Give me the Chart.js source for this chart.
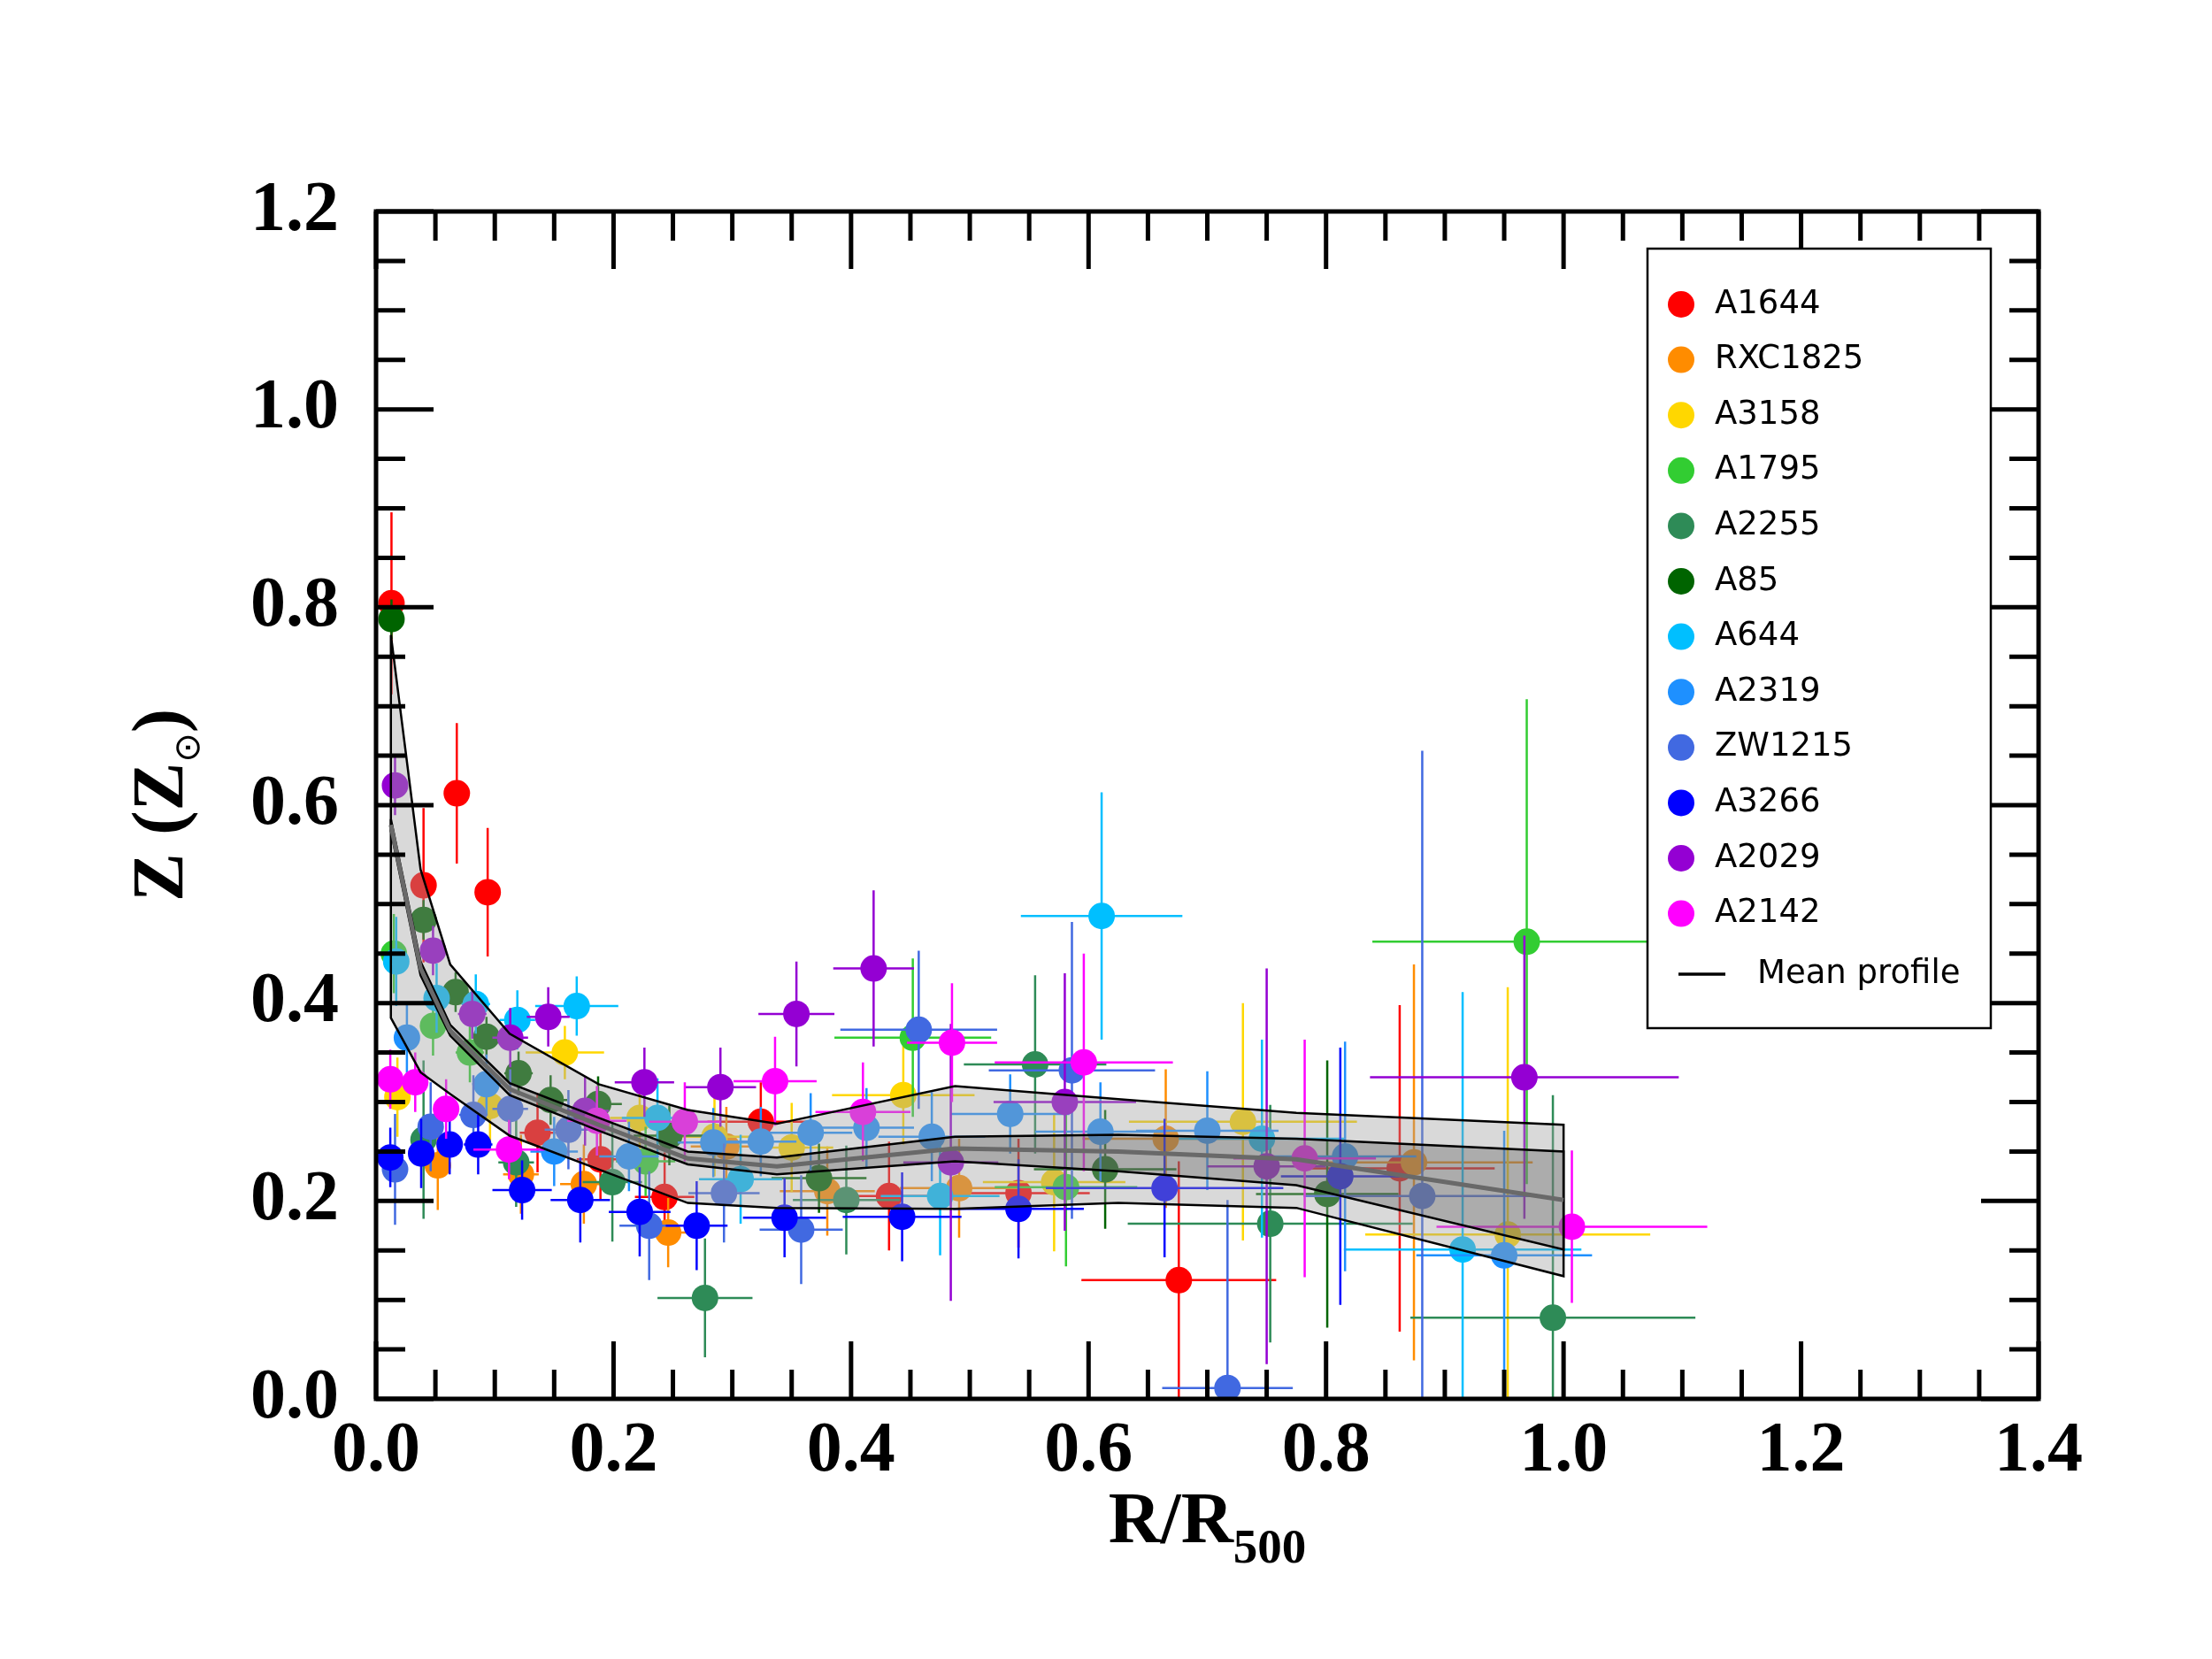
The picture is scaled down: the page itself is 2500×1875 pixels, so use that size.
<!DOCTYPE html>
<html>
<head>
<meta charset="utf-8">
<script src="https://cdn.jsdelivr.net/npm/chart.js@4.4.1/dist/chart.umd.min.js"></script>
<style>
  html, body { margin: 0; padding: 0; background: #fff; }
  canvas { display: block; }
</style>
</head>
<body>
<canvas id="zChart" width="2500" height="1875"></canvas>
<script>
// each row: [R/R500, Z, xerr, yerr]
const A1644 = [
    [0.013, 0.804, 0.006, 0.092], [0.040, 0.519, 0.008, 0.078], [0.068, 0.612, 0.009, 0.071],
    [0.094, 0.512, 0.009, 0.065], [0.136, 0.269, 0.015, 0.040], [0.189, 0.242, 0.020, 0.040],
    [0.243, 0.204, 0.025, 0.045], [0.324, 0.280, 0.045, 0.040], [0.432, 0.205, 0.050, 0.055],
    [0.541, 0.208, 0.060, 0.055], [0.676, 0.120, 0.082, 0.120], [0.862, 0.233, 0.080, 0.165]
];
const RXC1825 = [
    [0.052, 0.236, 0.010, 0.045], [0.122, 0.227, 0.015, 0.040], [0.175, 0.217, 0.020, 0.040],
    [0.246, 0.168, 0.025, 0.035], [0.295, 0.255, 0.030, 0.040], [0.380, 0.210, 0.040, 0.045],
    [0.491, 0.213, 0.050, 0.050], [0.665, 0.263, 0.070, 0.070], [0.874, 0.239, 0.100, 0.200]
];
const A3158 = [
    [0.018, 0.305, 0.008, 0.040], [0.096, 0.296, 0.012, 0.035], [0.159, 0.350, 0.033, 0.027],
    [0.222, 0.284, 0.025, 0.035], [0.285, 0.265, 0.030, 0.040], [0.350, 0.254, 0.035, 0.045],
    [0.444, 0.307, 0.060, 0.050], [0.571, 0.219, 0.060, 0.070], [0.730, 0.280, 0.096, 0.120],
    [0.953, 0.166, 0.120, 0.250]
];
const A1795 = [
    [0.015, 0.450, 0.006, 0.040], [0.048, 0.377, 0.010, 0.030], [0.079, 0.350, 0.012, 0.030],
    [0.227, 0.240, 0.025, 0.035], [0.452, 0.365, 0.066, 0.080], [0.581, 0.214, 0.060, 0.080],
    [0.969, 0.462, 0.130, 0.245]
];
const A2255 = [
    [0.040, 0.262, 0.010, 0.080], [0.118, 0.239, 0.015, 0.045], [0.199, 0.219, 0.025, 0.060],
    [0.277, 0.102, 0.040, 0.060], [0.396, 0.201, 0.045, 0.055], [0.555, 0.338, 0.060, 0.090],
    [0.753, 0.177, 0.120, 0.120], [0.991, 0.082, 0.120, 0.225]
];
const A85 = [
    [0.013, 0.788, 0.006, 0.020], [0.040, 0.484, 0.008, 0.020], [0.067, 0.411, 0.009, 0.020],
    [0.093, 0.366, 0.010, 0.020], [0.120, 0.329, 0.012, 0.022], [0.147, 0.302, 0.014, 0.025],
    [0.187, 0.298, 0.020, 0.028], [0.247, 0.266, 0.030, 0.030], [0.373, 0.223, 0.040, 0.035],
    [0.614, 0.232, 0.060, 0.060], [0.801, 0.207, 0.060, 0.135]
];
const A644 = [
    [0.017, 0.442, 0.006, 0.045], [0.051, 0.405, 0.010, 0.035], [0.084, 0.399, 0.012, 0.030],
    [0.119, 0.383, 0.015, 0.030], [0.169, 0.397, 0.035, 0.030], [0.237, 0.284, 0.030, 0.040],
    [0.307, 0.222, 0.035, 0.045], [0.475, 0.205, 0.050, 0.060], [0.611, 0.488, 0.068, 0.125],
    [0.746, 0.263, 0.070, 0.100], [0.915, 0.151, 0.100, 0.260]
];
const A2319 = [
    [0.026, 0.365, 0.010, 0.035], [0.093, 0.318, 0.012, 0.030], [0.150, 0.250, 0.020, 0.035],
    [0.213, 0.245, 0.025, 0.035], [0.284, 0.259, 0.030, 0.035], [0.324, 0.260, 0.030, 0.035],
    [0.366, 0.269, 0.035, 0.040], [0.413, 0.274, 0.040, 0.040], [0.468, 0.265, 0.045, 0.045],
    [0.534, 0.288, 0.050, 0.040], [0.610, 0.270, 0.055, 0.050], [0.700, 0.271, 0.060, 0.060],
    [0.816, 0.245, 0.060, 0.116], [0.950, 0.145, 0.074, 0.126]
];
const ZW1215 = [
    [0.016, 0.232, 0.008, 0.056], [0.046, 0.275, 0.010, 0.045], [0.082, 0.287, 0.012, 0.040],
    [0.113, 0.293, 0.015, 0.040], [0.162, 0.272, 0.020, 0.040], [0.230, 0.175, 0.025, 0.055],
    [0.293, 0.208, 0.030, 0.050], [0.358, 0.171, 0.035, 0.055], [0.457, 0.373, 0.066, 0.080],
    [0.586, 0.332, 0.070, 0.150], [0.717, 0.011, 0.055, 0.190], [0.881, 0.205, 0.100, 0.450]
];
const A3266 = [
    [0.012, 0.244, 0.006, 0.030], [0.038, 0.248, 0.010, 0.035], [0.062, 0.257, 0.010, 0.030],
    [0.086, 0.257, 0.012, 0.030], [0.123, 0.211, 0.025, 0.030], [0.172, 0.201, 0.025, 0.043],
    [0.222, 0.189, 0.026, 0.045], [0.270, 0.175, 0.026, 0.045], [0.344, 0.183, 0.035, 0.040],
    [0.443, 0.184, 0.050, 0.045], [0.541, 0.192, 0.055, 0.050], [0.664, 0.213, 0.100, 0.070],
    [0.812, 0.225, 0.050, 0.130]
];
const A2029 = [
    [0.016, 0.620, 0.008, 0.030], [0.048, 0.453, 0.010, 0.025], [0.081, 0.389, 0.012, 0.025],
    [0.113, 0.365, 0.015, 0.030], [0.145, 0.386, 0.018, 0.030], [0.176, 0.291, 0.020, 0.035],
    [0.226, 0.320, 0.025, 0.035], [0.290, 0.315, 0.030, 0.040], [0.354, 0.389, 0.032, 0.053],
    [0.419, 0.435, 0.034, 0.079], [0.484, 0.239, 0.040, 0.140], [0.580, 0.300, 0.060, 0.130],
    [0.750, 0.235, 0.050, 0.200], [0.967, 0.325, 0.130, 0.143]
];
const A2142 = [
    [0.012, 0.323, 0.006, 0.030], [0.033, 0.320, 0.008, 0.030], [0.059, 0.293, 0.010, 0.030],
    [0.112, 0.252, 0.030, 0.030], [0.186, 0.281, 0.025, 0.035], [0.260, 0.280, 0.030, 0.040],
    [0.336, 0.321, 0.035, 0.045], [0.410, 0.290, 0.040, 0.050], [0.485, 0.360, 0.038, 0.060],
    [0.596, 0.340, 0.075, 0.110], [0.782, 0.243, 0.060, 0.120], [1.007, 0.174, 0.114, 0.077]
];

const clusterNames = ['A1644', 'RXC1825', 'A3158', 'A1795', 'A2255', 'A85',
                      'A644', 'A2319', 'ZW1215', 'A3266', 'A2029', 'A2142'];
const clusterRows = [A1644, RXC1825, A3158, A1795, A2255, A85,
                     A644, A2319, ZW1215, A3266, A2029, A2142];
const clusterColors = ['#ff0000', '#ff8c00', '#ffd700', '#32cd32', '#2e8b57', '#006400',
                       '#00bfff', '#1e90ff', '#4169e1', '#0000ff', '#9400d3', '#ff00ff'];

// mean profile and its two scatter bands
const bandR      = [0.0125, 0.0375, 0.0625, 0.1125, 0.1875, 0.2625, 0.3375, 0.4875, 0.625, 0.775, 1.0];
const outerUpper = [0.772, 0.535, 0.439, 0.369, 0.318, 0.292, 0.278, 0.316, 0.303, 0.289, 0.277];
const outerLower = [0.385, 0.330, 0.308, 0.266, 0.232, 0.198, 0.193, 0.192, 0.198, 0.193, 0.124];
const innerUpper = [0.586, 0.442, 0.378, 0.319, 0.284, 0.250, 0.244, 0.265, 0.267, 0.263, 0.250];
const innerLower = [0.574, 0.428, 0.367, 0.307, 0.271, 0.237, 0.227, 0.240, 0.230, 0.216, 0.151];
const meanZ      = [0.580, 0.435, 0.372, 0.313, 0.277, 0.243, 0.235, 0.253, 0.250, 0.242, 0.201];

const xTickStep = 0.2, yTickStep = 0.2, minorStep = 0.05;

function bandPolygon(upper, lower) {
    let pts = bandR.map((r, i) => ({x: r, y: upper[i]}));
    for (let i = bandR.length - 1; i >= 0; i--) pts.push({x: bandR[i], y: lower[i]});
    pts.push({x: bandR[0], y: upper[0]});
    return pts;
}

// later clusters sit on top, bands above all points
let pointSets = clusterRows.map((rows, i) => ({
    type: 'scatter',
    label: clusterNames[i],
    data: rows.map(r => ({x: r[0], y: r[1]})),
    errors: rows.map(r => [r[2], r[3]]),
    backgroundColor: clusterColors[i],
    borderWidth: 0,
    pointRadius: 15,
    order: 100 - i
}));

let bandSets = [
    {
        type: 'line', label: 'outer band',
        data: bandPolygon(outerUpper, outerLower),
        borderColor: '#000', borderWidth: 2.5,
        backgroundColor: 'rgba(160,160,160,0.4)',
        fill: 'shape', pointRadius: 0, tension: 0, order: 3
    },
    {
        type: 'line', label: 'inner band',
        data: bandPolygon(innerUpper, innerLower),
        borderColor: '#000', borderWidth: 2.5,
        backgroundColor: 'rgba(90,90,90,0.35)',
        fill: 'shape', pointRadius: 0, tension: 0, order: 2
    },
    {
        type: 'line', label: 'Mean profile',
        data: bandR.map((r, i) => ({x: r, y: meanZ[i]})),
        borderColor: '#696969', borderWidth: 5,
        fill: false, pointRadius: 0, tension: 0, order: 1
    }
];

const errorBars = {
    id: 'errorBars',
    beforeDatasetDraw(chart, args) {
        let ds = chart.data.datasets[args.index];
        if (!ds.errors) return;
        const {ctx, chartArea: a, scales: {x, y}} = chart;
        ctx.save();
        ctx.beginPath();
        ctx.rect(a.left, a.top, a.right - a.left, a.bottom - a.top);
        ctx.clip();
        ctx.strokeStyle = ds.backgroundColor;
        ctx.lineWidth = 2.5;
        ds.data.forEach((p, i) => {
            let [xe, ye] = ds.errors[i];
            ctx.beginPath();
            ctx.moveTo(x.getPixelForValue(p.x - xe), y.getPixelForValue(p.y));
            ctx.lineTo(x.getPixelForValue(p.x + xe), y.getPixelForValue(p.y));
            ctx.moveTo(x.getPixelForValue(p.x), y.getPixelForValue(p.y - ye));
            ctx.lineTo(x.getPixelForValue(p.x), y.getPixelForValue(p.y + ye));
            ctx.stroke();
        });
        ctx.restore();
    }
};

// box frame with inward major/minor ticks on all four sides
const frameTicks = {
    id: 'frameTicks',
    afterDatasetsDraw(chart) {
        const {ctx, chartArea: a, scales: {x, y}} = chart;
        ctx.save();
        ctx.strokeStyle = '#000';
        ctx.lineWidth = 5;
        ctx.lineCap = 'butt';
        ctx.beginPath();
        for (let k = 0; k * minorStep <= x.max + 1e-9; k++) {
            let v = k * minorStep;
            let len = (Math.abs(v / xTickStep - Math.round(v / xTickStep)) < 1e-6) ? 65 : 33;
            let px = x.getPixelForValue(v);
            ctx.moveTo(px, a.bottom); ctx.lineTo(px, a.bottom - len);
            ctx.moveTo(px, a.top); ctx.lineTo(px, a.top + len);
        }
        for (let k = 0; k * minorStep <= y.max + 1e-9; k++) {
            let v = k * minorStep;
            let len = (Math.abs(v / yTickStep - Math.round(v / yTickStep)) < 1e-6) ? 65 : 33;
            let py = y.getPixelForValue(v);
            ctx.moveTo(a.left, py); ctx.lineTo(a.left + len, py);
            ctx.moveTo(a.right, py); ctx.lineTo(a.right - len, py);
        }
        ctx.stroke();
        ctx.lineWidth = 5;
        ctx.strokeRect(a.left, a.top, a.right - a.left, a.bottom - a.top);
        ctx.restore();
    }
};

const titlesAndLegend = {
    id: 'titlesAndLegend',
    afterDraw(chart) {
        const {ctx, chartArea: a} = chart;
        ctx.save();
        ctx.fillStyle = '#000';
        ctx.textBaseline = 'alphabetic';

        // x title R/R500
        let big = 'bold 82px "Liberation Serif"', small = 'bold 55px "Liberation Serif"';
        ctx.font = big; let w1 = ctx.measureText('R/R').width;
        ctx.font = small; let w2 = ctx.measureText('500').width;
        let cx = (a.left + a.right) / 2, sx = cx - (w1 + w2) / 2;
        ctx.textAlign = 'left';
        ctx.font = big; ctx.fillText('R/R', sx, 1743);
        ctx.font = small; ctx.fillText('500', sx + w1, 1766);

        // y title Z (Z_sun)
        ctx.save();
        ctx.translate(206, (a.top + a.bottom) / 2);
        ctx.rotate(-Math.PI / 2);
        let sunFont = '40px "DejaVu Sans"';
        ctx.font = big; let t1 = ctx.measureText('Z (Z').width, t3 = ctx.measureText(')').width;
        ctx.font = sunFont; let t2 = ctx.measureText('\u2299').width;
        let u = -(t1 + t2 + t3) / 2;
        ctx.font = big; ctx.fillText('Z (Z', u, 0);
        ctx.font = sunFont; ctx.fillText('\u2299', u + t1, 19);
        ctx.font = big; ctx.fillText(')', u + t1 + t2, 0);
        ctx.restore();

        // legend
        let lx = 1862, ly = 281, lw = 388, lh = 881;
        ctx.fillStyle = '#fff';
        ctx.fillRect(lx, ly, lw, lh);
        ctx.strokeStyle = '#000'; ctx.lineWidth = 2.5;
        ctx.strokeRect(lx, ly, lw, lh);
        ctx.font = '37px "DejaVu Sans"';
        ctx.textBaseline = 'middle';
        clusterNames.forEach((name, i) => {
            let cy = 344 + i * 62.6;
            ctx.fillStyle = clusterColors[i];
            ctx.beginPath(); ctx.arc(1900, cy, 15, 0, Math.PI * 2); ctx.fill();
            ctx.fillStyle = '#000';
            ctx.fillText(name, 1938, cy);
        });
        ctx.strokeStyle = '#000'; ctx.lineWidth = 3.5;
        ctx.beginPath(); ctx.moveTo(1897, 1101); ctx.lineTo(1950, 1101); ctx.stroke();
        ctx.fillText('Mean profile', 1986, 1101);
        ctx.restore();
    }
};

const tickFont = {family: '"Liberation Serif"', weight: 'bold', size: 80};

let zChart = new Chart(document.getElementById('zChart'), {
    type: 'scatter',
    data: { datasets: [...pointSets, ...bandSets] },
    options: {
        responsive: false,
        animation: false,
        devicePixelRatio: 1,
        layout: { padding: { left: 0, right: 196, top: 239, bottom: 0 } },
        plugins: { legend: { display: false }, tooltip: { enabled: false } },
        scales: {
            x: {
                type: 'linear', min: 0, max: 1.4,
                grid: { display: false, drawTicks: false, tickLength: 0 },
                border: { display: false },
                ticks: { stepSize: xTickStep, padding: 12, color: '#000', font: tickFont,
                         maxRotation: 0, autoSkip: false, callback: v => v.toFixed(1) },
                afterFit: s => { s.height = 294; }
            },
            y: {
                type: 'linear', min: 0, max: 1.2,
                grid: { display: false, drawTicks: false, tickLength: 0 },
                border: { display: false },
                ticks: { stepSize: yTickStep, padding: 42, color: '#000', font: tickFont,
                         autoSkip: false, callback: v => v.toFixed(1) },
                afterFit: s => { s.width = 425; }
            }
        }
    },
    plugins: [errorBars, frameTicks, titlesAndLegend]
});
</script>
</body>
</html>
